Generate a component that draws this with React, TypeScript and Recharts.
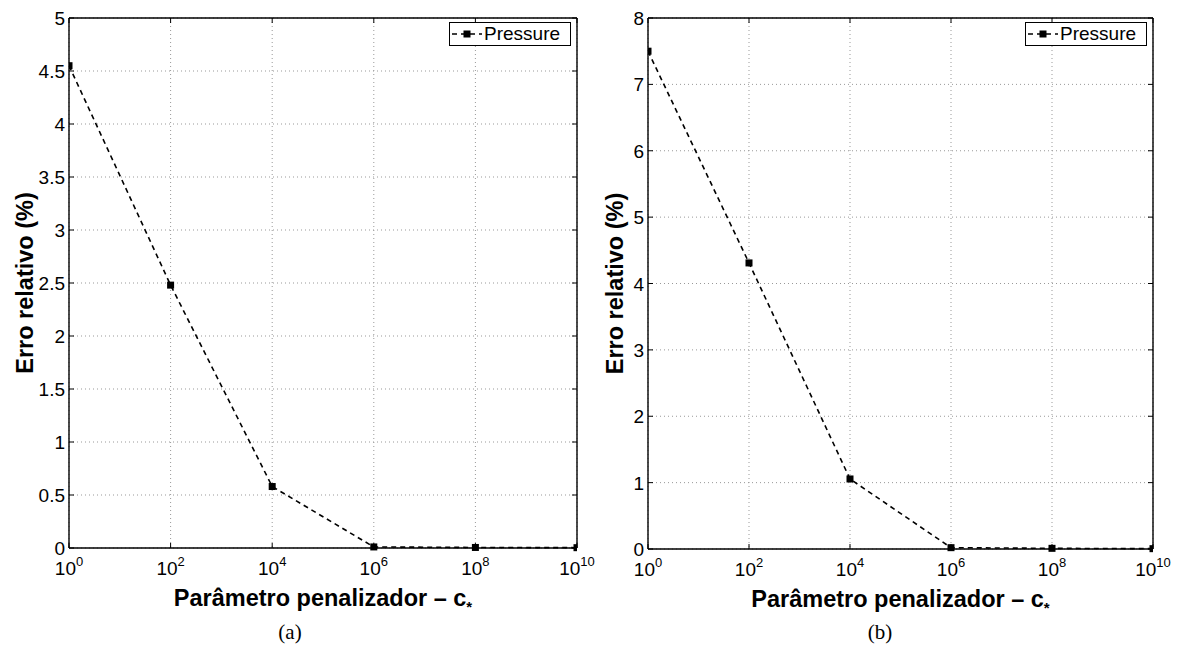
import React from 'react';
import { LineChart, Line, XAxis, YAxis, CartesianGrid, ReferenceLine } from 'recharts';

const cValues = [1, 1e2, 1e4, 1e6, 1e8, 1e10];
const xTickExponents = ['0', '2', '4', '6', '8', '10'];
const errorA = [4.55, 2.48, 0.58, 0.01, 0.005, 0.003];
const errorB = [7.5, 4.31, 1.055, 0.02, 0.01, 0.005];
const yTicksA = [0, 0.5, 1, 1.5, 2, 2.5, 3, 3.5, 4, 4.5, 5];
const yTicksB = [0, 1, 2, 3, 4, 5, 6, 7, 8];
const seriesName = 'Pressure';
const yTitle = 'Erro relativo (%)';
const xTitle = 'Parâmetro penalizador – c';
const captions = ['(a)', '(b)'];

const FONT = '"Liberation Sans", Arial, Helvetica, sans-serif';

type PanelProps = {
  values: number[];
  yTicks: number[];
  yMax: number;
  chartLeft: number;
  chartWidth: number;
  yAxisWidth: number;
  marginRight: number;
  xAxisHeight: number;
  caption: string;
  captionX: number;
};

const TOP = 18;
const H = 648;

function Square(props: any) {
  const { cx, cy } = props;
  if (cx == null || cy == null) return null;
  return <rect x={cx - 3.5} y={cy - 3.5} width={7} height={7} fill="#000" />;
}

function Panel(p: PanelProps) {
  const data = cValues.map((c, i) => ({ c, v: p.values[i] }));
  const plotLeft = p.yAxisWidth;
  const plotRight = p.chartWidth - p.marginRight;
  const plotBottom = H - p.xAxisHeight;

  const XTick = (props: any) => {
    const { x, payload } = props;
    const idx = cValues.indexOf(payload.value);
    const exp = xTickExponents[idx] ?? '';
    return (
      <g>
        <line x1={x} x2={x} y1={plotBottom} y2={plotBottom - 5} stroke="#000" strokeWidth={1} />
        <line x1={x} x2={x} y1={TOP} y2={TOP + 5} stroke="#000" strokeWidth={1} />
        <text x={x} y={plotBottom + 27} textAnchor="middle" fontFamily={FONT} fontSize={19} fill="#000">
          10<tspan dy={-9} fontSize={13}>{exp}</tspan>
        </text>
      </g>
    );
  };

  const YTick = (props: any) => {
    const { y, payload } = props;
    return (
      <g>
        <line x1={plotLeft} x2={plotLeft + 5} y1={y} y2={y} stroke="#000" strokeWidth={1} />
        <line x1={plotRight} x2={plotRight - 5} y1={y} y2={y} stroke="#000" strokeWidth={1} />
        <text x={plotLeft - 4} y={y + 7} textAnchor="end" fontFamily={FONT} fontSize={19} fill="#000">
          {String(payload.value)}
        </text>
      </g>
    );
  };

  return (
    <div style={{ position: 'absolute', left: p.chartLeft, top: 0, width: p.chartWidth, height: H }}>
      <LineChart
        width={p.chartWidth}
        height={H}
        data={data}
        margin={{ top: TOP, right: p.marginRight, left: 0, bottom: 0 }}
      >
        <CartesianGrid stroke="#999" strokeDasharray="1 3" strokeWidth={1} />
        <XAxis
          dataKey="c"
          type="number"
          scale="log"
          domain={[1, 1e10]}
          ticks={cValues}
          allowDataOverflow
          height={p.xAxisHeight}
          tickSize={0}
          tickMargin={0}
          tickLine={false}
          tick={<XTick />}
          axisLine={{ stroke: '#000', strokeWidth: 1.4 }}
          interval={0}
          label={{
            content: () => (
              <text
                x={(plotLeft + plotRight) / 2}
                y={plotBottom + 58}
                textAnchor="middle"
                fontFamily={FONT}
                fontSize={23.5}
                fontWeight="bold"
                fill="#000"
              >
                {xTitle}
                <tspan dy={6} fontSize={15}>*</tspan>
              </text>
            ),
          }}
        />
        <YAxis
          type="number"
          domain={[0, p.yMax]}
          ticks={p.yTicks}
          width={p.yAxisWidth}
          tickSize={0}
          tickMargin={0}
          tickLine={false}
          tick={<YTick />}
          axisLine={{ stroke: '#000', strokeWidth: 1.4 }}
          interval={0}
          label={{
            content: () => (
              <text
                x={33}
                y={(TOP + plotBottom) / 2}
                transform={`rotate(-90 33 ${(TOP + plotBottom) / 2})`}
                textAnchor="middle"
                fontFamily={FONT}
                fontSize={23.5}
                fontWeight="bold"
                fill="#000"
              >
                {yTitle}
              </text>
            ),
          }}
        />
        <ReferenceLine y={p.yMax} stroke="#000" strokeWidth={1.4} />
        <ReferenceLine x={1e10} stroke="#000" strokeWidth={1.4} />
        <Line
          dataKey="v"
          stroke="#000"
          strokeWidth={1.6}
          strokeDasharray="5 4"
          dot={<Square />}
          activeDot={false}
          isAnimationActive={false}
          name={seriesName}
        />
      </LineChart>
      <div
        style={{
          position: 'absolute',
          left: plotRight - 128,
          top: 22,
          width: 122,
          border: '1px solid #000',
          background: '#fff',
          display: 'flex',
          alignItems: 'center',
          height: 24,
          fontFamily: FONT,
          fontSize: 19,
          color: '#000',
          boxSizing: 'border-box',
        }}
      >
        <svg width={34} height={12} style={{ display: 'block' }}>
          <line x1={2} x2={32} y1={6} y2={6} stroke="#000" strokeWidth={1.4} strokeDasharray="5 4" />
          <rect x={13.5} y={2.5} width={7} height={7} fill="#000" />
        </svg>
        <span style={{ lineHeight: '22px' }}>{seriesName}</span>
      </div>
      <div
        style={{
          position: 'absolute',
          left: p.captionX - 30,
          width: 60,
          top: 620,
          textAlign: 'center',
          fontFamily: '"Liberation Serif", "Times New Roman", serif',
          fontSize: 21,
          color: '#000',
        }}
      >
        {p.caption}
      </div>
    </div>
  );
}

export default function App() {
  return (
    <div style={{ position: 'absolute', left: 0, top: 0, width: 1178, height: 648, background: '#fff' }}>
      <Panel
        values={errorA}
        yTicks={yTicksA}
        yMax={5}
        chartLeft={0}
        chartWidth={600}
        yAxisWidth={69}
        marginRight={23}
        xAxisHeight={100}
        caption={captions[0]}
        captionX={290}
      />
      <Panel
        values={errorB}
        yTicks={yTicksB}
        yMax={8}
        chartLeft={590}
        chartWidth={588}
        yAxisWidth={58}
        marginRight={25}
        xAxisHeight={99}
        caption={captions[1]}
        captionX={290}
      />
    </div>
  );
}
